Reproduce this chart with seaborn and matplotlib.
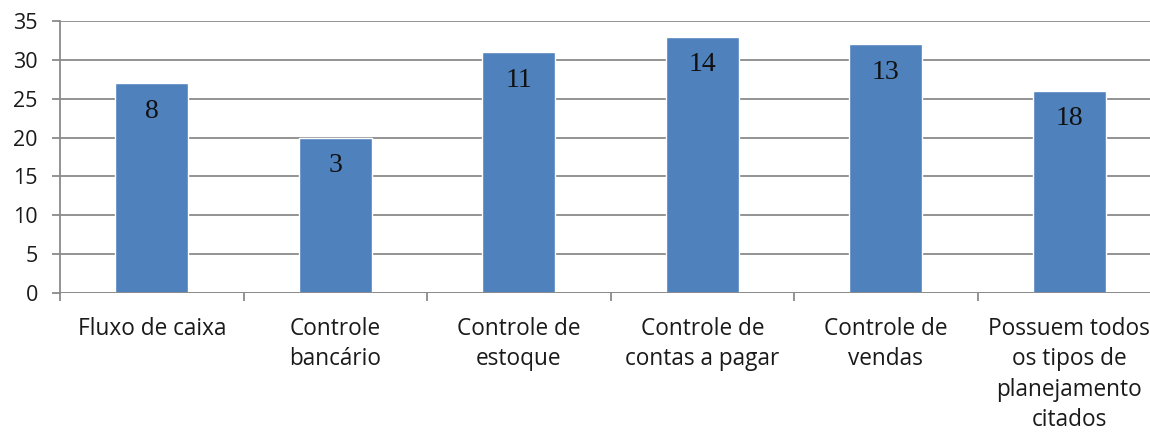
import matplotlib
matplotlib.use("Agg")
import matplotlib.pyplot as plt
import seaborn as sns
import pandas as pd

categorias = [
    "Fluxo de caixa",
    "Controle\nbancário",
    "Controle de\nestoque",
    "Controle de\ncontas a pagar",
    "Controle de\nvendas",
    "Possuem todos\nos tipos de\nplanejamento\ncitados",
]
alturas = [27, 20, 31, 33, 32, 26]
rotulos = [8, 3, 11, 14, 13, 18]

df = pd.DataFrame({"categoria": categorias, "valor": alturas})

sns.set_theme(style="white")
plt.rcParams["font.family"] = ["Open Sans", "DejaVu Sans"]

fig = plt.figure(figsize=(11.5, 4.34), dpi=100)
ax = fig.add_axes([60 / 1150, 1 - 293 / 434, 1 - 60 / 1150, (293 - 21) / 434])

sns.barplot(data=df, x="categoria", y="valor", color="#4F81BD",
            saturation=1, width=0.4, ax=ax, zorder=3)

cinza = "#8a8a8a"
ax.set_ylim(0, 35)
ax.set_xlim(-0.5, 5.44)
ax.set_yticks(range(0, 36, 5))
ax.yaxis.grid(True, color=cinza, linewidth=1.3, zorder=0)
ax.set_axisbelow(True)

for side in ["top", "right", "bottom"]:
    ax.spines[side].set_visible(False)
ax.spines["left"].set_color(cinza)
ax.spines["left"].set_linewidth(1.3)
ax.axhline(0, color=cinza, linewidth=1.3, zorder=4)

ax.set_xlabel("")
ax.set_ylabel("")
ax.tick_params(axis="y", which="major", left=True, length=6, width=1.3,
               color=cinza, labelsize=15.5, labelcolor="#1a1a1a", pad=10)

# category labels centred under each bar, boundary ticks between categories
ax.set_xticks(range(len(categorias)))
ax.set_xticklabels(categorias, fontsize=16.3, color="#1a1a1a", linespacing=1.36,
                   va="top")
ax.tick_params(axis="x", which="major", bottom=False, pad=11)
ax.set_xticks([i - 0.5 for i in range(len(categorias))], minor=True)
ax.tick_params(axis="x", which="minor", bottom=True, length=6, width=1.3,
               color=cinza)

for i, (h, r) in enumerate(zip(alturas, rotulos)):
    ax.text(i, h - 3.6, str(r), ha="center", va="center",
            fontsize=20, family="Liberation Serif", color="#111111", zorder=5)

fig.savefig("out.png", dpi=100)
